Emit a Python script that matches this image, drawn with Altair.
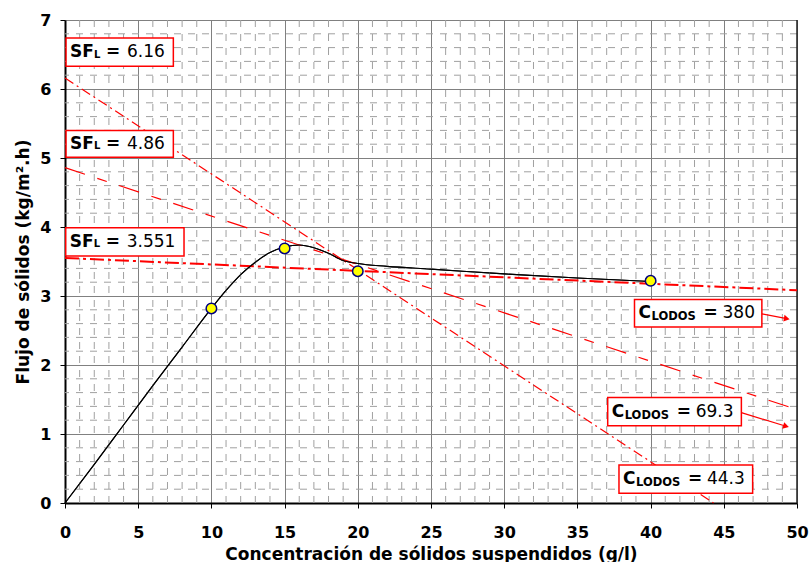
import altair as alt
import pandas as pd

# Measured settling flux at each tested concentration
conc = [10, 15, 20, 40]          # g/l
flux = [2.82, 3.69, 3.36, 3.22]  # kg/m2.h

# Smoothed solids-flux curve
curve_x = [0, 2, 4, 6, 8, 10, 11, 12, 13, 14, 15, 16, 17, 18, 19, 20, 22, 25, 30, 35, 40]
curve_y = [0, 0.56, 1.13, 1.70, 2.26, 2.82, 3.08, 3.31, 3.49, 3.63, 3.71, 3.74, 3.70,
           3.62, 3.515, 3.47, 3.43, 3.39, 3.32, 3.26, 3.21]

# Limiting flux (y intercept) and underflow concentration (x intercept) of each tangent
sf_lim = [6.16, 4.86, 3.551]
c_lodos = [44.3, 69.3, 380]

X_MAX, Y_MAX = 50, 7
FONT = "DejaVu Sans"

x_scale = alt.Scale(domain=[0, X_MAX], nice=False, zero=False)
y_scale = alt.Scale(domain=[0, Y_MAX], nice=False, zero=False)

# ---- minor grid -------------------------------------------------------------
minor_x = pd.DataFrame({"x": [v for v in range(1, X_MAX) if v % 5]})
minor_y = pd.DataFrame({"y": [round(0.2 * i, 1) for i in range(1, 35) if i % 5]})
grid_v = alt.Chart(minor_x).mark_rule(color="#a0a0a0", strokeDash=[7, 7], strokeWidth=1).encode(
    x=alt.X("x:Q", scale=x_scale))
grid_h = alt.Chart(minor_y).mark_rule(color="#a0a0a0", strokeDash=[7, 7], strokeWidth=1).encode(
    y=alt.Y("y:Q", scale=y_scale))

# ---- axes (major grid) ---------------------------------------------------------
base = alt.Chart(pd.DataFrame({"x": curve_x, "y": curve_y}))
x_enc = alt.X("x:Q", scale=x_scale, axis=alt.Axis(
    values=list(range(0, X_MAX + 1, 5)), format="d",
    title="Concentración de sólidos suspendidos (g/l)",
    grid=True, gridColor="#808080", gridWidth=1,
    domainColor="black", domainWidth=2, tickColor="black", tickSize=5,
    labelFont=FONT, labelFontSize=16, labelFontWeight="bold", labelColor="black",
    labelPadding=16, labelFlush=False, labelOverlap=False,
    titleFont=FONT, titleFontSize=17, titleFontWeight="bold", titleColor="black",
    titlePadding=6))
y_enc = alt.Y("y:Q", scale=y_scale, axis=alt.Axis(
    values=list(range(0, Y_MAX + 1)), format="d", title="Flujo de sólidos (kg/m².h)",
    grid=True, gridColor="#808080", gridWidth=1,
    domainColor="black", domainWidth=2, tickColor="black", tickSize=5,
    labelFont=FONT, labelFontSize=16, labelFontWeight="bold", labelColor="black",
    labelPadding=9, labelFlush=False, labelOverlap=False,
    titleFont=FONT, titleFontSize=17, titleFontWeight="bold", titleColor="black",
    titlePadding=7))

curve = base.mark_line(color="black", strokeWidth=1.1, interpolate="monotone").encode(x=x_enc, y=y_enc)

# ---- tangent lines ------------------------------------------------------------
dash_styles = [([10, 4, 2, 4], 1.2), ([21, 13, 10, 13], 1.2), ([14, 4, 3, 4], 2)]
tangents = []
for sf, c, (dash, w) in zip(sf_lim, c_lodos, dash_styles):
    x_end = min(c, X_MAX)
    df = pd.DataFrame({"x": [0, x_end], "y": [sf, sf * (1 - x_end / c)]})
    tangents.append(alt.Chart(df).mark_line(color="#ff0000", strokeDash=dash, strokeWidth=w).encode(
        x=alt.X("x:Q", scale=x_scale), y=alt.Y("y:Q", scale=y_scale)))

points = alt.Chart(pd.DataFrame({"x": conc, "y": flux})).mark_circle(
    size=110, color="#ffff00", stroke="#000080", strokeWidth=1.5, opacity=1).encode(
    x=alt.X("x:Q", scale=x_scale), y=alt.Y("y:Q", scale=y_scale))

right_border = alt.Chart(pd.DataFrame({"x": [X_MAX]})).mark_rule(color="#202020", strokeWidth=1.5).encode(
    x=alt.X("x:Q", scale=x_scale))

# ---- labels -------------------------------------------------------------------
# box corners (data units) for the SF_L call-outs, top to bottom
sf_box = pd.DataFrame({"x": [0.07, 0.07, 0.05], "x2": [7.4, 7.4, 8.13],
                       "y": [6.74, 5.40, 3.99], "y2": [6.33, 5.01, 3.58],
                       "val": [str(v) for v in sf_lim]})
# box corners for the C_LODOS call-outs, top to bottom (380, 69.3, 44.3)
c_box = pd.DataFrame({"x": [38.9, 37.07, 37.84], "x2": [47.6, 46.2, 46.97],
                      "y": [2.95, 1.53, 0.55], "y2": [2.55, 1.12, 0.14],
                      "val": [str(v) for v in reversed(c_lodos)]})
for d in (sf_box, c_box):
    d["yc"] = (d["y"] + d["y2"]) / 2


def boxes(df):
    return alt.Chart(df).mark_rect(fill="white", stroke="#ff0000", strokeWidth=1.5).encode(
        x=alt.X("x:Q", scale=x_scale), x2="x2:Q", y=alt.Y("y:Q", scale=y_scale), y2="y2:Q")


def piece(df, text, dx, dy, size, weight):
    enc = {"text": alt.Text("val:N")} if text is None else {"text": alt.value(text)}
    return alt.Chart(df).mark_text(align="left", baseline="alphabetic", dx=dx, dy=dy, font=FONT,
                                   fontSize=size, fontWeight=weight, color="black").encode(
        x=alt.X("x:Q", scale=x_scale), y=alt.Y("yc:Q", scale=y_scale), **enc)


sf_layers = [boxes(sf_box),
             piece(sf_box, "SF", 4, 5, 17, "bold"),
             piece(sf_box, "L", 28, 5.5, 10, "bold"),
             piece(sf_box, "=", 40, 5, 17, "bold"),
             piece(sf_box, None, 61, 5, 17, "normal")]
c_layers = [boxes(c_box),
            piece(c_box, "C", 4, 5, 17, "bold"),
            piece(c_box, "LODOS", 17, 7, 11.5, "bold"),
            piece(c_box, "=", 69, 5, 17, "bold"),
            piece(c_box, None, 88, 5, 17, "normal")]

# arrows from the 380 and 69.3 call-outs toward their off-chart intercepts
arrows = pd.DataFrame({"id": [0, 0, 1, 1],
                       "x": [47.6, 49.3, 46.2, 49.25],
                       "y": [2.74, 2.672, 1.309, 1.112]})
arrow_lines = alt.Chart(arrows).mark_line(color="#ff0000", strokeWidth=1.2).encode(
    x=alt.X("x:Q", scale=x_scale), y=alt.Y("y:Q", scale=y_scale), detail="id:N")
heads = pd.DataFrame({"x": [49.3, 49.25], "y": [2.672, 1.112], "ang": [10.6, 17]})
arrow_heads = alt.Chart(heads).mark_point(shape="triangle-right", filled=True, color="#ff0000",
                                          size=45, opacity=1).encode(
    x=alt.X("x:Q", scale=x_scale), y=alt.Y("y:Q", scale=y_scale), angle=alt.Angle("ang:Q", scale=None))

chart = alt.layer(
    curve, grid_v, grid_h, right_border, *tangents, curve, points,
    arrow_lines, arrow_heads, *sf_layers, *c_layers,
).properties(
    width=732, height=483,
    padding={"left": 65, "top": 20, "right": 13, "bottom": 59},
    autosize=alt.AutoSizeParams(type="none"),
    background="white",
).configure_view(stroke=None)

chart.save("out.html", embed_options={"renderer": "svg", "actions": False})
